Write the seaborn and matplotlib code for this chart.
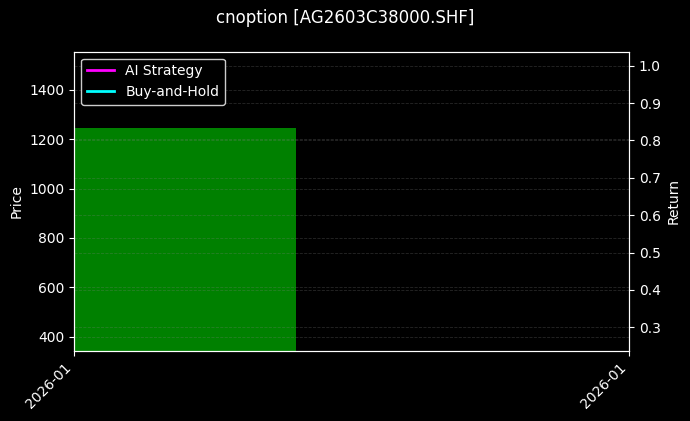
import matplotlib
matplotlib.use("Agg")
import matplotlib.pyplot as plt
import matplotlib.dates as mdates
import seaborn as sns
import pandas as pd

# Data
dates = pd.to_datetime(["2026-01-09"])
prices = [1247]
ai_returns = [1.0]
bh_returns = [1.0]
title = "cnoption [AG2603C38000.SHF]"

plt.style.use("dark_background")
plt.rcParams["font.family"] = ["DejaVu Sans"]

fig, ax = plt.subplots(figsize=(6.9, 4.21), dpi=100)
fig.patch.set_facecolor("black")
ax.set_facecolor("black")
fig.subplots_adjust(left=74 / 690, right=629 / 690, top=1 - 51.7 / 421, bottom=1 - 351 / 421)

ax.bar(dates, prices, width=0.8, color="green", alpha=1.0)
ax.set_ylim(342, 1555)
ax.set_ylabel("Price", color="white")
ax.grid(True, axis="y", linestyle="--", color="gray", alpha=0.3, linewidth=0.6)
ax.grid(False, axis="x")

ax2 = ax.twinx()
sns.lineplot(x=dates, y=ai_returns, ax=ax2, color="magenta", linewidth=2, label="AI Strategy")
sns.lineplot(x=dates, y=bh_returns, ax=ax2, color="cyan", linewidth=2, label="Buy-and-Hold")
ax2.set_ylim(0.2366, 1.0375)
ax2.set_ylabel("Return", color="white")
ax2.grid(True, axis="y", linestyle="--", color="gray", alpha=0.3, linewidth=0.6)

d0 = dates[0]
d1 = d0 + pd.Timedelta(days=1)
ax.set_xlim(d0, d1)
ax.set_xticks([d0, d1])
ax.xaxis.set_major_formatter(mdates.DateFormatter("%Y-%m"))
for lbl in ax.get_xticklabels():
    lbl.set_rotation(45)
    lbl.set_ha("right")

leg = ax2.legend(loc="upper left", facecolor="black", edgecolor="#cccccc", framealpha=1.0)
for t in leg.get_texts():
    t.set_color("white")

for sp in ax2.spines.values():
    sp.set_color("white")

fig.suptitle(title, color="white", fontsize=12, y=0.978)
fig.savefig("out.png", dpi=100, facecolor="black")
